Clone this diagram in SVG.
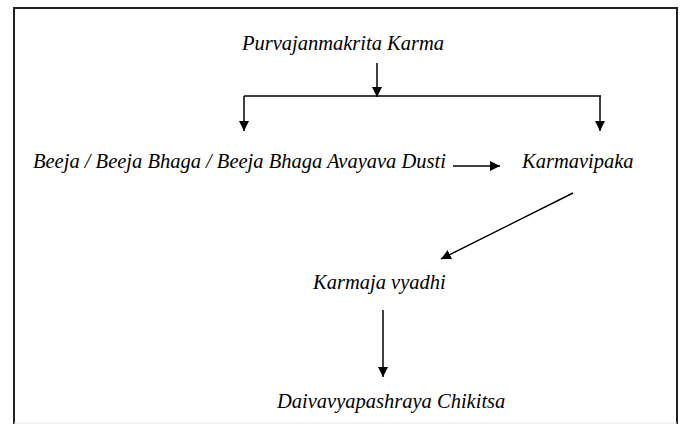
<svg xmlns="http://www.w3.org/2000/svg" width="683" height="424" viewBox="0 0 683 424">
<style>
.t{font-style:italic;font-size:20.5px;fill:#000}
.c{stroke:#000;stroke-width:1.5;fill:none}
.frame{stroke:#222;stroke-width:2;fill:none}
</style>
<defs>
<marker id="ah" viewBox="0 0 10 10" refX="10" refY="5" markerWidth="10" markerHeight="10" markerUnits="userSpaceOnUse" orient="auto">
<path d="M0,0 L10,5 L0,10 Z" fill="#000"/>
</marker>
</defs>
<rect x="0" y="0" width="683" height="424" fill="#fff"/>
<g id="frame">
<path class="frame" d="M14,424 L14,8 L677,8 L677,424"/>
<line x1="14" y1="423" x2="677" y2="423" stroke="#e6e6e6" stroke-width="1"/>
</g>
<g id="connectors">
<line class="c" x1="377" y1="63" x2="377" y2="97" marker-end="url(#ah)"/>
<line class="c" x1="244" y1="96" x2="601" y2="96"/>
<line class="c" x1="244" y1="96" x2="244" y2="131" marker-end="url(#ah)"/>
<line class="c" x1="600" y1="96" x2="600" y2="131" marker-end="url(#ah)"/>
<line class="c" x1="453" y1="166" x2="500" y2="166" marker-end="url(#ah)"/>
<line class="c" x1="573" y1="193" x2="441" y2="259" marker-end="url(#ah)"/>
<line class="c" x1="383" y1="310" x2="383" y2="377" marker-end="url(#ah)"/>
</g>
<g font-family="Liberation Serif, serif">
<g id="purvajanmakrita"><text class="t" x="343" y="50" text-anchor="middle" font-family="Liberation Serif">Purvajanmakrita Karma</text></g>
<g id="beeja"><text class="t" x="33" y="168" font-family="Liberation Serif">Beeja / Beeja Bhaga / Beeja Bhaga Avayava Dusti</text></g>
<g id="karmavipaka"><text class="t" x="522" y="168" font-family="Liberation Serif">Karmavipaka</text></g>
<g id="karmaja"><text class="t" x="313" y="289" font-family="Liberation Serif">Karmaja vyadhi</text></g>
<g id="daivavyapashraya"><text class="t" x="277" y="408" font-family="Liberation Serif">Daivavyapashraya Chikitsa</text></g>
</g>
</svg>
